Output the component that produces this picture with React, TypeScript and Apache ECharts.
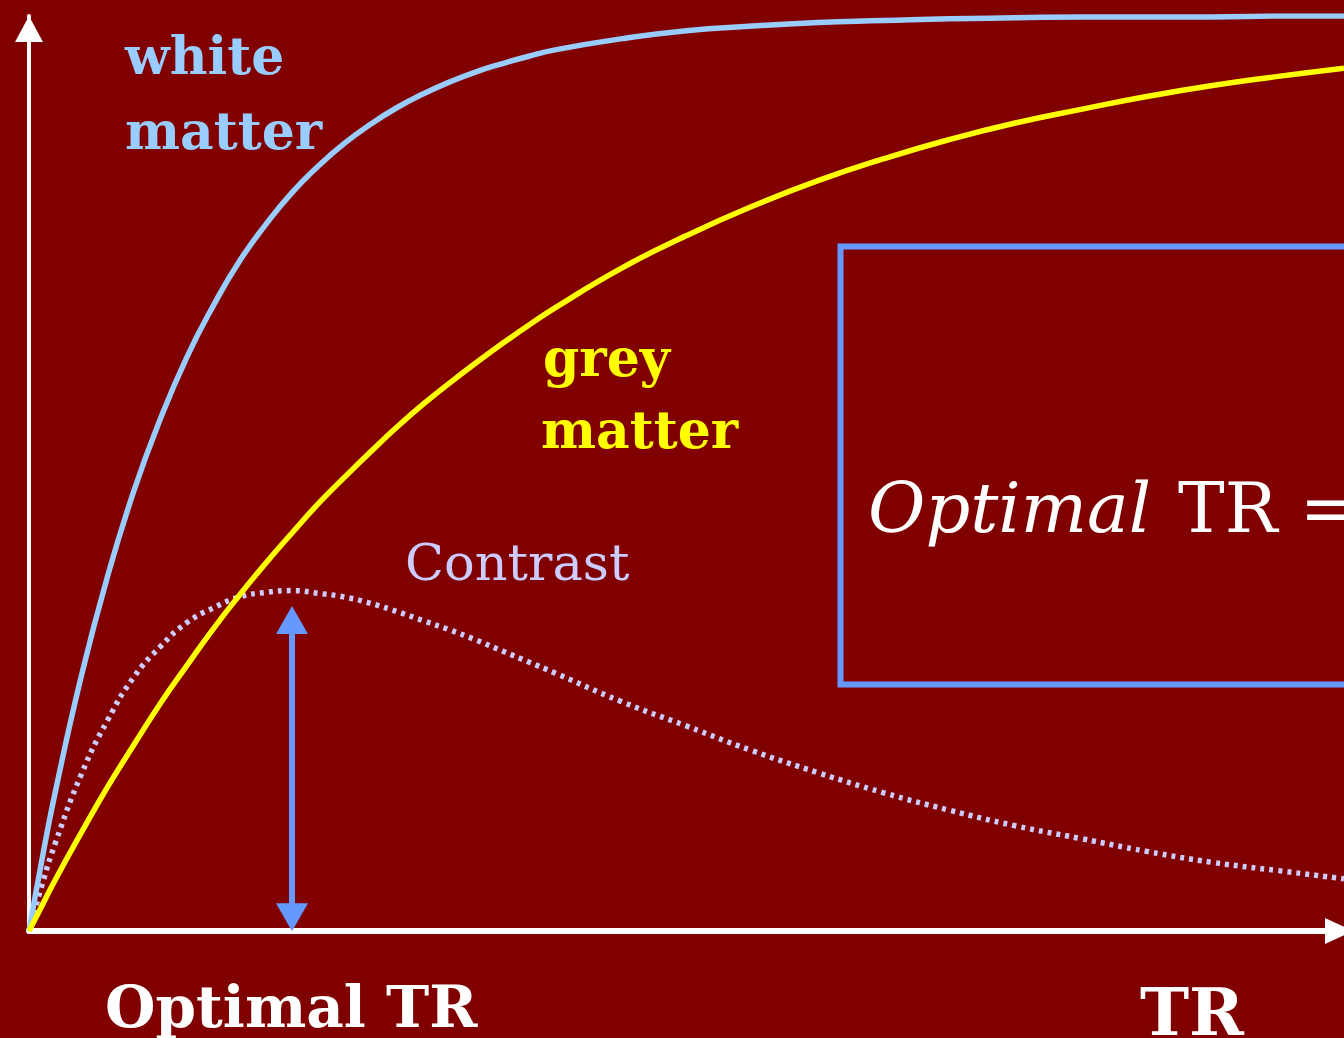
import React, { useEffect, useRef } from "react";
import * as echarts from "echarts";

// TR in arbitrary units (0..100 across the axis)
const trValues = [0, 1, 2, 4, 6, 8, 10, 12, 14, 16, 18, 20, 22, 24, 26, 28, 30, 32, 34, 36, 38, 40, 45, 50, 55, 60, 65, 70, 75, 80, 85, 90, 95, 100];
// Signal (0..1)
const whiteMatter = [0, 0.079, 0.152, 0.28, 0.389, 0.482, 0.56, 0.627, 0.683, 0.732, 0.772, 0.807, 0.836, 0.861, 0.882, 0.9, 0.915, 0.928, 0.939, 0.948, 0.956, 0.963, 0.975, 0.984, 0.989, 0.993, 0.995, 0.997, 0.998, 0.999, 0.999, 0.999, 1.0, 1.0];
const greyMatter = [0, 0.028, 0.056, 0.108, 0.158, 0.204, 0.249, 0.29, 0.33, 0.367, 0.402, 0.435, 0.467, 0.496, 0.524, 0.551, 0.576, 0.599, 0.621, 0.642, 0.662, 0.681, 0.724, 0.76, 0.792, 0.82, 0.844, 0.865, 0.883, 0.898, 0.912, 0.924, 0.934, 0.943];
const contrast = [0, 0.051, 0.096, 0.172, 0.231, 0.278, 0.311, 0.337, 0.353, 0.365, 0.37, 0.372, 0.369, 0.365, 0.358, 0.349, 0.339, 0.329, 0.318, 0.306, 0.294, 0.282, 0.251, 0.224, 0.197, 0.173, 0.151, 0.132, 0.115, 0.101, 0.087, 0.075, 0.066, 0.057];
// Double arrow marking the optimal TR (arrow-head centres)
const optimalTR = 20;
const optimalArrowBottom = 0.015;
const optimalArrowTop = 0.34;

const labels = {
  white1: "white",
  white2: "matter",
  grey1: "grey",
  grey2: "matter",
  contrast: "Contrast",
  boxItalic: "Optimal",
  boxRest: "TR =",
  optimal: "Optimal TR",
  axisX: "TR",
};

const BG = "#800000";
const WHITE_C = "#99CCFF";
const GREY_C = "#FFFF00";
const CONTRAST_C = "#CCCCFF";
const BLUE = "#6699FF";
const SERIF = '"DejaVu Serif", "Liberation Serif", serif';

export default function App() {
  const ref = useRef<HTMLDivElement>(null);
  useEffect(() => {
    if (!ref.current) return;
    const chart = echarts.init(ref.current, null, { renderer: "svg" });
    const pair = (ys: number[]) => trValues.map((x, i) => [x, ys[i]]);
    chart.setOption({
      animation: false,
      backgroundColor: BG,
      grid: { left: 29, right: 0, top: 16, bottom: 107, containLabel: false },
      xAxis: {
        type: "value",
        min: 0,
        max: 100,
        axisLine: {
          show: true,
          onZero: false,
          lineStyle: { color: "#FFFFFF", width: 6 },
          symbol: ["none", "triangle"],
          symbolSize: [26, 28],
          symbolOffset: [0, -5],
        },
        axisTick: { show: false },
        axisLabel: { show: false },
        splitLine: { show: false },
      },
      yAxis: {
        type: "value",
        min: 0,
        max: 1,
        axisLine: {
          show: true,
          onZero: false,
          lineStyle: { color: "#FFFFFF", width: 4 },
          symbol: ["none", "triangle"],
          symbolSize: [28, 26],
          symbolOffset: [0, -13],
        },
        axisTick: { show: false },
        axisLabel: { show: false },
        splitLine: { show: false },
      },
      series: [
        {
          name: "Contrast",
          type: "line",
          data: pair(contrast),
          smooth: 0.5,
          showSymbol: false,
          lineStyle: { color: CONTRAST_C, width: 5.5, type: [4, 5] },
          markLine: {
            silent: true,
            symbol: ["triangle", "triangle"],
            symbolSize: [32, 28],
            label: { show: false },
            lineStyle: { color: BLUE, width: 6, type: "solid" },
            data: [[{ coord: [optimalTR, optimalArrowBottom] }, { coord: [optimalTR, optimalArrowTop] }]],
          },
          z: 2,
        },
        {
          name: "white matter",
          type: "line",
          data: pair(whiteMatter),
          smooth: 0.5,
          showSymbol: false,
          lineStyle: { color: WHITE_C, width: 5.5 },
          z: 3,
        },
        {
          name: "grey matter",
          type: "line",
          data: pair(greyMatter),
          smooth: 0.5,
          showSymbol: false,
          lineStyle: { color: GREY_C, width: 5.5 },
          z: 4,
        },
      ],
      graphic: [
        {
          type: "rect",
          shape: { x: 840.5, y: 246.5, width: 600, height: 438 },
          style: { fill: "none", stroke: BLUE, lineWidth: 6 },
          silent: true,
        },
        { type: "text", x: 125, y: 55, style: { text: labels.white1, font: `bold 52px ${SERIF}`, fill: WHITE_C, verticalAlign: "middle" } },
        { type: "text", x: 125, y: 130, style: { text: labels.white2, font: `bold 52px ${SERIF}`, fill: WHITE_C, verticalAlign: "middle" } },
        { type: "text", x: 543, y: 357, style: { text: labels.grey1, font: `bold 52px ${SERIF}`, fill: GREY_C, verticalAlign: "middle" } },
        { type: "text", x: 541, y: 429, style: { text: labels.grey2, font: `bold 52px ${SERIF}`, fill: GREY_C, verticalAlign: "middle" } },
        { type: "text", x: 405, y: 562, style: { text: labels.contrast, font: `51px ${SERIF}`, fill: CONTRAST_C, verticalAlign: "middle" } },
        { type: "text", x: 868, y: 508, style: { text: labels.boxItalic, font: `italic 70px ${SERIF}`, fill: "#FFFFFF", verticalAlign: "middle" } },
        { type: "text", x: 1178, y: 508, style: { text: labels.boxRest, font: `70px ${SERIF}`, fill: "#FFFFFF", verticalAlign: "middle" } },
        { type: "text", x: 105, y: 1007, style: { text: labels.optimal, font: `bold 58px ${SERIF}`, fill: "#FFFFFF", verticalAlign: "middle" } },
        { type: "text", x: 1140, y: 1012, style: { text: labels.axisX, font: `bold 66px ${SERIF}`, fill: "#FFFFFF", verticalAlign: "middle" } },
      ],
    });
    return () => chart.dispose();
  }, []);
  return (
    <div
      ref={ref}
      style={{ position: "fixed", left: 0, top: 0, width: 1344, height: 1038, background: BG }}
    />
  );
}
